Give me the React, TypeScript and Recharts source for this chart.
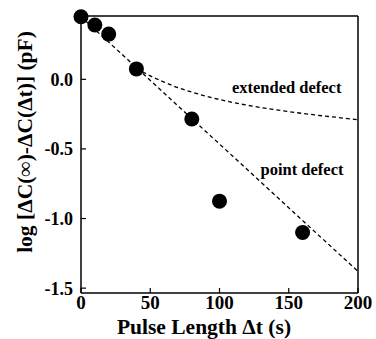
import React from 'react';
import {
  ComposedChart,
  Line,
  Scatter,
  XAxis,
  YAxis,
  ReferenceDot,
} from 'recharts';

// measured points: pulse length (s) vs log capacitance difference (pF)
const pulseTimes = [0, 10, 20, 40, 80, 100, 160];
const logDeltaC = [0.45, 0.39, 0.325, 0.075, -0.285, -0.875, -1.1];

// point defect fit: straight dashed line
const pointFitT = [0, 200];
const pointFitY = [0.45, -1.38];

// extended defect fit: dashed curve
const extFitT = [40, 50, 60, 70, 80, 90, 100, 110, 120, 130, 140, 150, 160, 170, 180, 190, 200];
const extFitY = [
  0.08, 0.025, -0.02, -0.06, -0.092, -0.12, -0.145, -0.167, -0.186, -0.203, -0.218, -0.232, -0.245,
  -0.257, -0.268, -0.279, -0.29,
];

const xTicks = [0, 50, 100, 150, 200];
const yTicks = [-1.5, -1.0, -0.5, 0.0];

const measured = pulseTimes.map((t, i) => ({ t, v: logDeltaC[i] }));
const pointFit = pointFitT.map((t, i) => ({ t, v: pointFitY[i] }));
const extFit = extFitT.map((t, i) => ({ t, v: extFitY[i] }));

const FONT = '"Liberation Serif", "Times New Roman", serif';
const INK = '#000';

const Dot = (props: any) => <circle cx={props.cx} cy={props.cy} r={7.5} fill={INK} />;

export default function App() {
  return (
    <div style={{ position: 'absolute', left: 0, top: 0, background: '#fff' }}>
      <ComposedChart
        width={376}
        height={339}
        margin={{ top: 11, right: 13, bottom: 6, left: 36 }}
        style={{ fontFamily: FONT }}
      >
        <XAxis
          xAxisId="b"
          dataKey="t"
          type="number"
          domain={[0, 200]}
          ticks={xTicks}
          height={40}
          tickSize={-5}
          tickMargin={8}
          axisLine={{ stroke: INK, strokeWidth: 1.5 }}
          tickLine={{ stroke: INK, strokeWidth: 1.2 }}
          tick={{ fill: INK, fontSize: 19, fontWeight: 700, fontFamily: FONT }}
          label={{
            content: () => (
              <text x={204} y={333.5} textAnchor="middle" fill={INK} fontSize={21.5} fontWeight={700} fontFamily={FONT}>
                Pulse Length Δt (s)
              </text>
            ),
          }}
        />
        <XAxis
          xAxisId="t"
          orientation="top"
          type="number"
          domain={[0, 200]}
          ticks={xTicks}
          height={5}
          tickSize={-5}
          tick={false}
          axisLine={{ stroke: INK, strokeWidth: 1.5 }}
          tickLine={{ stroke: INK, strokeWidth: 1.2 }}
        />
        <YAxis
          yAxisId="l"
          type="number"
          domain={[-1.535, 0.455]}
          ticks={yTicks}
          width={45}
          tickSize={-5}
          tickMargin={13}
          tickFormatter={(v: number) => v.toFixed(1)}
          axisLine={{ stroke: INK, strokeWidth: 1.5 }}
          tickLine={{ stroke: INK, strokeWidth: 1.2 }}
          tick={{ fill: INK, fontSize: 18, fontWeight: 700, fontFamily: FONT }}
          label={{
            content: () => (
              <text
                transform="translate(32,142) rotate(-90)"
                textAnchor="middle"
                fill={INK}
                fontSize={21.5}
                fontWeight={700}
                fontFamily={FONT}
              >
                log [ΔC(∞)-ΔC(Δt)] (pF)
              </text>
            ),
          }}
        />
        <YAxis
          yAxisId="r"
          orientation="right"
          type="number"
          domain={[-1.535, 0.455]}
          ticks={yTicks}
          width={5}
          tickSize={-5}
          tick={false}
          axisLine={{ stroke: INK, strokeWidth: 1.5 }}
          tickLine={{ stroke: INK, strokeWidth: 1.2 }}
        />
        <Line
          xAxisId="b"
          yAxisId="l"
          data={pointFit}
          dataKey="v"
          type="linear"
          stroke={INK}
          strokeWidth={1.3}
          strokeDasharray="4 3"
          dot={false}
          isAnimationActive={false}
        />
        <Line
          xAxisId="b"
          yAxisId="l"
          data={extFit}
          dataKey="v"
          type="monotone"
          stroke={INK}
          strokeWidth={1.3}
          strokeDasharray="4 3"
          dot={false}
          isAnimationActive={false}
        />
        <Scatter
          xAxisId="b"
          yAxisId="l"
          data={measured}
          dataKey="v"
          shape={Dot}
          isAnimationActive={false}
        />
        <ReferenceDot
          xAxisId="b"
          yAxisId="l"
          x={148.5}
          y={-0.057}
          r={0}
          stroke="none"
          label={{ value: 'extended defect', position: 'center', fill: INK, fontSize: 16.5, fontWeight: 700, fontFamily: FONT }}
        />
        <ReferenceDot
          xAxisId="b"
          yAxisId="l"
          x={159.6}
          y={-0.646}
          r={0}
          stroke="none"
          label={{ value: 'point defect', position: 'center', fill: INK, fontSize: 16.5, fontWeight: 700, fontFamily: FONT }}
        />
      </ComposedChart>
    </div>
  );
}
